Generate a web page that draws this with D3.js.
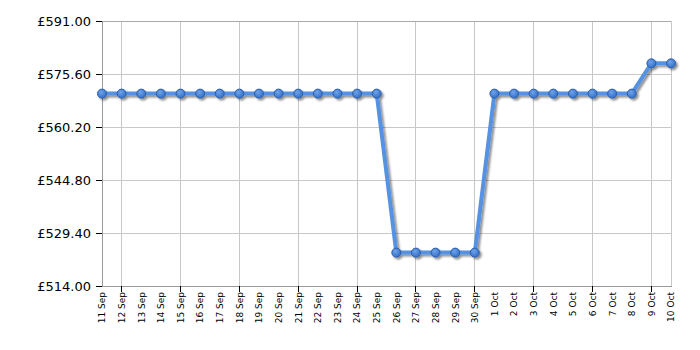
<!DOCTYPE html>
<html><head><meta charset="utf-8">
<script src="https://cdn.jsdelivr.net/npm/d3@7"></script>
<style>body{margin:0;background:#fff}svg{display:block}</style>
</head><body>
<svg id="c" width="700" height="350"></svg>
<script>
const dates = ["11 Sep","12 Sep","13 Sep","14 Sep","15 Sep","16 Sep","17 Sep","18 Sep","19 Sep","20 Sep","21 Sep","22 Sep","23 Sep","24 Sep","25 Sep","26 Sep","27 Sep","28 Sep","29 Sep","30 Sep","1 Oct","2 Oct","3 Oct","4 Oct","5 Oct","6 Oct","7 Oct","8 Oct","9 Oct","10 Oct"];
const prices = [569.9,569.9,569.9,569.9,569.9,569.9,569.9,569.9,569.9,569.9,569.9,569.9,569.9,569.9,569.9,523.7,523.7,523.7,523.7,523.7,569.9,569.9,569.9,569.9,569.9,569.9,569.9,569.9,578.7,578.7];
const yTicks = [514.00,529.40,544.80,560.20,575.60,591.00];
const gridDates = ["12 Sep","15 Sep","18 Sep","21 Sep","24 Sep","27 Sep","30 Sep","3 Oct","6 Oct","9 Oct"];

const svg = d3.select("#c");
const L=102, R=671, T=21, B=286;
const x = d3.scalePoint().domain(dates).range([L,R]);
const y = d3.scaleLinear().domain([514,591]).range([B,T]);
const font = "Verdana, 'DejaVu Sans', sans-serif";

const defs = svg.append("defs");
const f = defs.append("filter").attr("id","sh").attr("x","-20%").attr("y","-20%").attr("width","140%").attr("height","140%");
f.append("feGaussianBlur").attr("in","SourceAlpha").attr("stdDeviation",1.2).attr("result","b");
f.append("feOffset").attr("in","b").attr("dx",2).attr("dy",2).attr("result","o");
f.append("feComponentTransfer").attr("in","o").attr("result","o2").append("feFuncA").attr("type","linear").attr("slope",0.45);
const m = f.append("feMerge"); m.append("feMergeNode").attr("in","o2"); m.append("feMergeNode").attr("in","SourceGraphic");
const rg = defs.append("radialGradient").attr("id","mk").attr("cx","40%").attr("cy","35%").attr("r","65%");
rg.append("stop").attr("offset","0%").attr("stop-color","#6fa3ea");
rg.append("stop").attr("offset","100%").attr("stop-color","#3470c8");

// grid
svg.append("g").selectAll("line").data(yTicks).join("line")
  .attr("x1",L).attr("x2",R).attr("y1",d=>y(d)).attr("y2",d=>y(d))
  .attr("stroke","#c8c8c8").attr("stroke-width",1).attr("shape-rendering","crispEdges");
svg.append("g").selectAll("line").data(gridDates).join("line")
  .attr("x1",d=>x(d)).attr("x2",d=>x(d)).attr("y1",T).attr("y2",B)
  .attr("stroke","#c8c8c8").attr("stroke-width",1).attr("shape-rendering","crispEdges");
svg.append("line").attr("x1",R).attr("x2",R).attr("y1",T).attr("y2",B).attr("stroke","#c8c8c8").attr("shape-rendering","crispEdges");
svg.append("line").attr("x1",L).attr("x2",R).attr("y1",T).attr("y2",T).attr("stroke","#aaa").attr("shape-rendering","crispEdges");

// y axis
const ya = svg.append("g").attr("transform",`translate(${L},0)`)
  .call(d3.axisLeft(y).tickValues(yTicks).tickSize(6).tickPadding(5).tickFormat(d=>"£"+d.toFixed(2)));
ya.select(".domain").attr("stroke","#999").attr("shape-rendering","crispEdges");
ya.selectAll(".tick line").attr("stroke","#000").attr("shape-rendering","crispEdges");
ya.selectAll("text").attr("font-family",font).attr("font-size",13).attr("fill","#000");

// x axis
const xa = svg.append("g").attr("transform",`translate(0,${B})`)
  .call(d3.axisBottom(x).tickSize(0).tickPadding(0));
xa.select(".domain").attr("stroke","#999").attr("shape-rendering","crispEdges");
xa.selectAll(".tick text").attr("font-family",font).attr("font-size",9).attr("fill","#000")
  .attr("transform","rotate(-90)").attr("text-anchor","end").attr("dy","0.32em").attr("x",-6).attr("y",0);
svg.append("g").selectAll("line").data(gridDates).join("line")
  .attr("x1",d=>x(d)).attr("x2",d=>x(d)).attr("y1",B).attr("y2",B+6)
  .attr("stroke","#000").attr("shape-rendering","crispEdges");

// line + markers
const g = svg.append("g").attr("filter","url(#sh)");
g.append("path").datum(prices)
  .attr("d", d3.line().x((d,i)=>x(dates[i])).y(d=>y(d)))
  .attr("fill","none").attr("stroke","#5592e2").attr("stroke-width",4).attr("stroke-linejoin","round");
g.selectAll("circle").data(prices).join("circle")
  .attr("cx",(d,i)=>x(dates[i])).attr("cy",d=>y(d)).attr("r",4.5)
  .attr("fill","url(#mk)").attr("stroke","#2a5ea8").attr("stroke-width",1);
</script>
</body></html>
